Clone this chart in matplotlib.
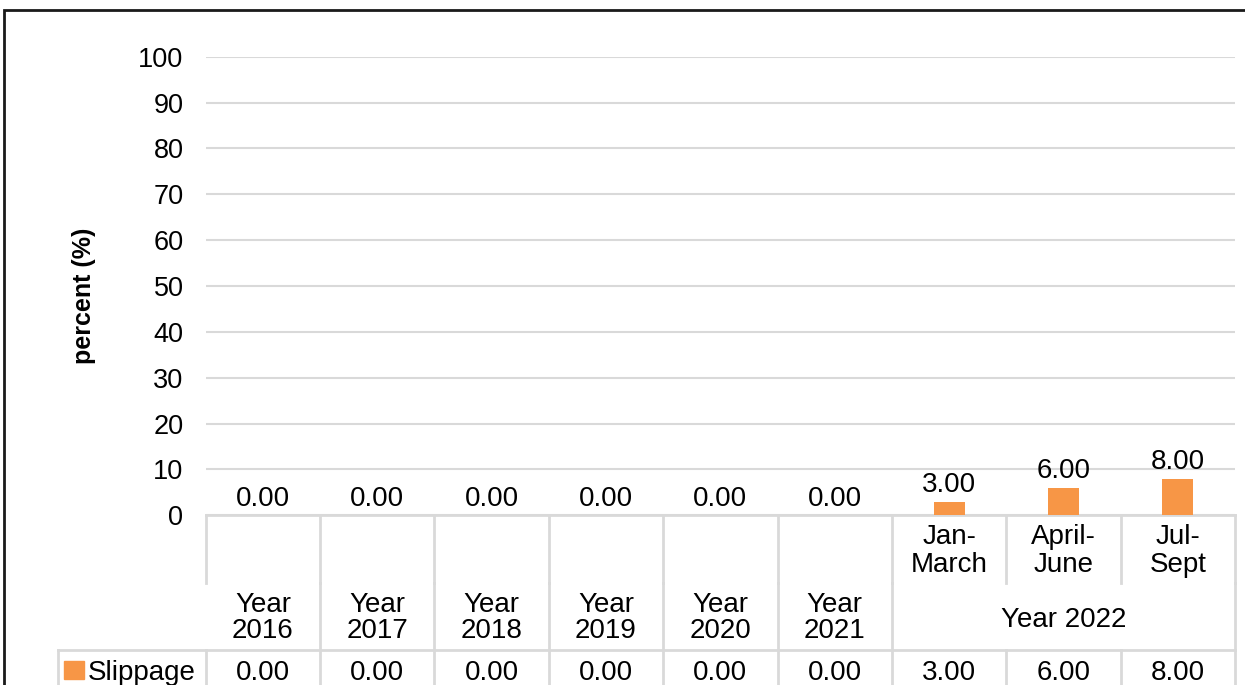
import matplotlib
matplotlib.use("Agg")
import matplotlib.pyplot as plt
from matplotlib.patches import Rectangle
import numpy as np

plt.rcParams['font.family'] = ['Liberation Sans', 'DejaVu Sans']

# data
sub_labels = ["", "", "", "", "", "", "Jan-\nMarch", "April-\nJune", "Jul-\nSept"]
year_labels = ["Year\n2016", "Year\n2017", "Year\n2018", "Year\n2019", "Year\n2020", "Year\n2021"]
group_label = "Year 2022"
series_name = "Slippage"
slippage = [0.00, 0.00, 0.00, 0.00, 0.00, 0.00, 3.00, 6.00, 8.00]
yticks = [0, 10, 20, 30, 40, 50, 60, 70, 80, 90, 100]

W, H = 1245, 685
orange = "#F79646"
grid_c = "#D9D9D9"
fs = 20

fig = plt.figure(figsize=(W / 100, H / 100), dpi=100)

# pixel layout helpers
x_left, x_right = 205.7, 1235
y_top, y_zero = 56.7, 515.3

ax = fig.add_axes([x_left / W, (H - y_zero) / H, (x_right - x_left) / W, (y_zero - y_top) / H])
x = np.arange(len(slippage))
ax.bar(x, slippage, width=0.27, color=orange, zorder=3)
ax.set_xlim(-0.5, len(slippage) - 0.5)
ax.set_ylim(0, 100)
ax.set_yticks(yticks)
ax.set_xticks([])
ax.tick_params(axis='y', length=0, pad=16, labelsize=fs - 0.5)
ax.grid(axis='y', color=grid_c, linewidth=1.5, zorder=0)
for s in ['top', 'right', 'left']:
    ax.spines[s].set_visible(False)
ax.spines['bottom'].set_color(grid_c)
ax.spines['bottom'].set_linewidth(2)

for xi, v in zip(x, slippage):
    ax.annotate(f"{v:.2f}", (xi, v), xytext=(0, 12), textcoords='offset points',
                ha='center', va='center', fontsize=fs)

fig.text(84 / W, (H - 296) / H, "percent (%)", rotation=90, ha='center', va='center',
         fontsize=18, fontweight='bold')

# data table below the plot
tax = fig.add_axes([x_left / W, 0, (x_right - x_left) / W, (H - y_zero) / H])
tax.set_xlim(-0.5, len(slippage) - 0.5)
tax.set_ylim(H, y_zero)
tax.axis('off')

row1_bot, row2_bot = 583, 650
n = len(slippage)
n_years = len(year_labels)
cat_w = (x_right - x_left) / n
legend_left = -0.5 + (58 - x_left) / cat_w

lkw = dict(color=grid_c, linewidth=2, clip_on=False)
for k in range(n + 1):
    b = k - 0.5
    tax.plot([b, b], [y_zero, row1_bot], **lkw)
    if 1 <= k <= n_years or k == n:
        tax.plot([b, b], [row1_bot, row2_bot], **lkw)
    tax.plot([b, b], [row2_bot, H + 5], **lkw)
tax.plot([legend_left, n - 0.5], [row2_bot, row2_bot], **lkw)
tax.plot([legend_left, legend_left], [row2_bot, H + 5], **lkw)

for i, lab in enumerate(sub_labels):
    tax.text(i, 551, lab, ha='center', va='center', fontsize=fs, linespacing=1.05)
for i, lab in enumerate(year_labels):
    tax.text(i, 618, lab, ha='center', va='center', fontsize=fs, linespacing=1.05)
tax.text((n_years + n - 1) / 2, 620, group_label, ha='center', va='center', fontsize=fs)
for i, v in enumerate(slippage):
    tax.text(i, 673, f"{v:.2f}", ha='center', va='center', fontsize=fs)

# legend key in the table
key_w = 20 / cat_w
tax.add_patch(Rectangle((-0.5 + (64 - x_left) / cat_w, 679), key_w, -18, color=orange, clip_on=False))
tax.text(-0.5 + (88 - x_left) / cat_w, 673, series_name, ha='left', va='center', fontsize=fs)

# outer border
fig.patches.append(Rectangle((4 / W, -0.1), 2, (H - 10) / H + 0.1, transform=fig.transFigure,
                             fill=False, edgecolor="#1a1a1a", linewidth=2))

fig.savefig("out.png", dpi=100)
